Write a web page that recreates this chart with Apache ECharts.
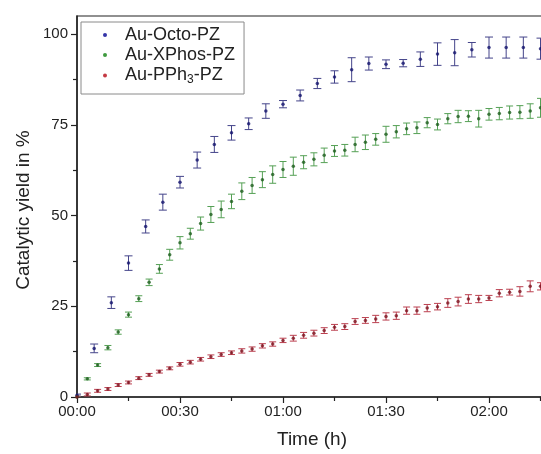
<!DOCTYPE html>
<html>
<head>
<meta charset="utf-8">
<script src="https://cdn.jsdelivr.net/npm/echarts@6/dist/echarts.min.js"></script>
<style>
html,body{margin:0;padding:0;background:#fff;}
#chart{width:541px;height:454px;}
</style>
</head>
<body>
<div id="chart"></div>
<script>
// ---- data (time in minutes) ----
const seriesNames = ['Au-Octo-PZ', 'Au-XPhos-PZ', 'Au-PPh3-PZ'];

const octoTime = [0,5,10,15,20,25,30,35,40,45,50,55,60,65,70,75,80,85,90,95,100,105,110,115,120,125,130,135];
const octoYield = [0.5,13.4,26.0,36.9,47.0,53.7,59.2,65.3,69.6,72.8,75.3,78.8,80.7,83.1,86.4,88.2,90.2,91.9,91.7,92.0,93.1,94.5,94.9,95.7,96.3,96.3,96.3,96.0];
const octoErr = [0.3,1.2,1.6,2.0,1.8,2.2,1.6,2.2,2.2,2.0,1.6,2.0,1.0,1.5,1.4,1.7,3.3,1.8,1.2,1.0,2.0,3.1,3.6,2.0,2.9,2.9,2.9,2.9];

const grTime = [0,3,6,9,12,15,18,21,24,27,30,33,36,39,42,45,48,51,54,57,60,63,66,69,72,75,78,81,84,87,90,93,96,99,102,105,108,111,114,117,120,123,126,129,132,135];

const xphosYield = [0,5.0,8.8,13.6,17.9,22.7,27.1,31.6,35.3,39.2,42.5,45.0,47.8,50.3,51.7,53.9,56.7,58.3,59.9,61.3,62.7,63.6,64.7,65.5,66.6,67.8,68.0,69.6,70.2,71.0,72.4,73.1,73.9,74.2,75.6,75.1,76.7,77.3,77.4,76.7,77.9,78.1,78.4,78.5,78.8,79.7];
const xphosErr = [0.2,0.3,0.4,0.6,0.6,0.7,0.8,0.9,1.2,1.5,1.7,1.5,1.8,2.2,2.3,2.0,2.3,2.2,2.2,2.4,2.2,2.5,1.8,1.8,2.0,1.5,1.6,2.0,2.0,1.6,2.2,1.7,1.6,1.6,1.4,1.5,1.4,1.7,1.5,2.3,1.6,1.7,1.8,1.8,2.0,2.6];

const pph3Yield = [0,0.7,1.7,2.2,3.3,4.0,5.2,6.1,7.0,7.9,9.0,9.6,10.4,11.1,11.7,12.2,12.7,13.2,14.1,14.6,15.6,16.2,17.0,17.6,18.3,19.2,19.4,20.8,21.1,21.5,22.2,22.4,23.8,23.8,24.5,24.9,25.9,26.3,27.0,27.0,27.3,28.6,28.9,29.1,30.5,30.5];
const pph3Err = [0.2,0.4,0.4,0.4,0.4,0.4,0.4,0.4,0.4,0.4,0.5,0.5,0.5,0.5,0.5,0.5,0.6,0.6,0.6,0.6,0.6,0.8,0.8,0.8,0.8,0.8,0.8,0.8,0.8,1.0,1.0,1.0,1.0,1.0,1.0,0.9,1.2,1.2,1.2,1.0,0.7,1.0,0.8,1.3,1.5,1.0];

const yTicks = [0,25,50,75,100];
const yMinorTicks = [12.5,37.5,62.5,87.5];

// ---- styling ----
const dotColors = ['#14146e', '#1d5e1d', '#7e1420'];
const barColors = ['#44448a', '#55a055', '#bb4050'];
const legendColors = ['#3535a8', '#3f9a3f', '#c43a44'];
const capHalf = [4, 3.5, 3.5];

function zip3(t, v, e) { return t.map((x, i) => [x, v[i], e[i]]); }
const sets = [
  zip3(octoTime, octoYield, octoErr),
  zip3(grTime, xphosYield, xphosErr),
  zip3(grTime, pph3Yield, pph3Err)
];

function pad(n) { return (n < 10 ? '0' : '') + n; }
function fmtTime(v) { return pad(Math.floor(v / 60)) + ':' + pad(Math.round(v % 60)); }

function errRender(idx) {
  return function (params, api) {
    const x = api.value(0), y = api.value(1), e = api.value(2);
    const top = api.coord([x, y + e]);
    const bot = api.coord([x, y - e]);
    const h = capHalf[idx];
    const st = { stroke: barColors[idx], lineWidth: 1 };
    return {
      type: 'group',
      children: [
        { type: 'line', shape: { x1: top[0], y1: top[1], x2: bot[0], y2: bot[1] }, style: st },
        { type: 'line', shape: { x1: top[0] - h, y1: top[1], x2: top[0] + h, y2: top[1] }, style: st },
        { type: 'line', shape: { x1: bot[0] - h, y1: bot[1], x2: bot[0] + h, y2: bot[1] }, style: st }
      ]
    };
  };
}

const series = [];
sets.forEach((d, i) => {
  series.push({
    type: 'custom', name: seriesNames[i], renderItem: errRender(i),
    data: d, encode: { x: 0, y: 1 }, clip: true, z: 2, silent: true
  });
});
sets.forEach((d, i) => {
  series.push({
    type: 'scatter', name: seriesNames[i], data: d.map(p => [p[0], p[1]]),
    symbol: 'circle', symbolSize: 3.5, itemStyle: { color: dotColors[i] }, z: 3, silent: true
  });
});

const chart = echarts.init(document.getElementById('chart'), null, { renderer: 'canvas' });
const font = 'Liberation Sans, Arial, sans-serif';
chart.setOption({
  animation: false,
  backgroundColor: '#fff',
  textStyle: { fontFamily: font },
  grid: {
    left: 77, top: 16, bottom: 57, right: -51,
    outerBoundsMode: 'none', containLabel: false,
    show: true, borderColor: '#222', borderWidth: 1.2, backgroundColor: 'transparent'
  },
  legend: {
    left: 81, top: 22, orient: 'vertical',
    padding: [3, 9, 8, 22], itemGap: 0,
    itemWidth: 30, itemHeight: 4,
    borderColor: '#8a8a8a', borderWidth: 1, borderRadius: 0,
    data: seriesNames.map((n, i) => ({ name: n, icon: 'circle', itemStyle: { color: legendColors[i] } })),
    formatter: function (name) {
      if (name === 'Au-PPh3-PZ') return '{t|Au-PPh}{sub|3}{t|-PZ}';
      return '{t|' + name + '}';
    },
    textStyle: {
      fontFamily: font, fontSize: 18, color: '#222', lineHeight: 20,
      rich: {
        t: { fontFamily: font, fontSize: 18, color: '#222', lineHeight: 20 },
        sub: { fontFamily: font, fontSize: 12, color: '#222', lineHeight: 20, padding: [9, 0, 0, 0] }
      }
    },
    selectedMode: false
  },
  xAxis: {
    type: 'value', min: 0, max: 150, interval: 30,
    axisLine: { show: true, lineStyle: { color: '#222', width: 1.5 } },
    axisTick: { show: true, inside: false, length: 6, lineStyle: { color: '#222', width: 1.2 } },
    minorTick: { show: true, splitNumber: 2, length: 4, lineStyle: { color: '#222', width: 1.2 } },
    splitLine: { show: false },
    axisLabel: { formatter: fmtTime, fontSize: 15, color: '#222', margin: 7, fontFamily: font }
  },
  yAxis: [
    {
      type: 'value', min: 0, max: 105,
      axisLine: { show: true, lineStyle: { color: '#222', width: 1.5 } },
      axisTick: { show: true, length: 6, customValues: yTicks, lineStyle: { color: '#222', width: 1.2 } },
      axisLabel: { customValues: yTicks, fontSize: 15, color: '#222', margin: 9, fontFamily: font },
      splitLine: { show: false }
    },
    {
      type: 'value', min: 0, max: 105, position: 'left',
      axisLine: { show: false },
      axisTick: { show: true, length: 4, customValues: yMinorTicks, lineStyle: { color: '#222', width: 1.2 } },
      axisLabel: { show: false },
      splitLine: { show: false }
    }
  ],
  graphic: [
    { type: 'text', x: 312, y: 440, style: { text: 'Time (h)', font: '19px ' + font, fill: '#222', textAlign: 'center', textVerticalAlign: 'middle' } },
    { type: 'text', x: 24, y: 210, rotation: Math.PI / 2, style: { text: 'Catalytic yield in %', font: '19px ' + font, fill: '#222', textAlign: 'center', textVerticalAlign: 'middle' } }
  ],
  series: series
});
</script>
</body>
</html>
